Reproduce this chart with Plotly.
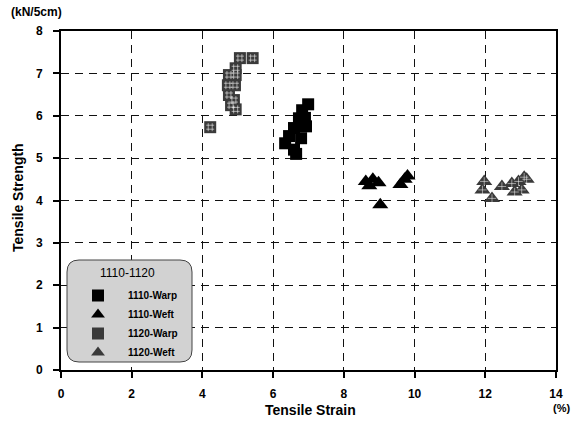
import plotly.graph_objects as go

# ---- data ----
warp1110_x = [6.99, 6.82, 6.73, 6.59, 6.93, 6.45, 6.79, 6.34, 6.59, 6.65, 6.9]
warp1110_y = [6.27, 6.13, 5.94, 5.71, 5.75, 5.52, 5.47, 5.35, 5.2, 5.1, 5.95]
weft1110_x = [8.62, 8.72, 8.82, 8.98, 9.03, 9.6, 9.72, 9.8]
weft1110_y = [4.45, 4.35, 4.5, 4.42, 3.9, 4.38, 4.5, 4.58]
warp1120_x = [5.06, 5.42, 4.94, 4.75, 4.94, 4.72, 4.92, 4.75, 4.89, 4.81, 4.94, 4.22]
warp1120_y = [7.36, 7.36, 7.12, 6.96, 6.96, 6.72, 6.72, 6.49, 6.37, 6.25, 6.15, 5.73]
weft1120_x = [11.97, 11.92, 12.19, 12.47, 12.75, 12.94, 13.1, 12.83, 13.03, 13.17]
weft1120_y = [4.45, 4.25, 4.05, 4.33, 4.4, 4.45, 4.55, 4.2, 4.25, 4.5]

x_ticks = [0, 2, 4, 6, 8, 10, 12, 14]
y_ticks = [0, 1, 2, 3, 4, 5, 6, 7, 8]

W, H = 577, 428
L, R, T, B = 61, 21, 31, 58
pw, ph = W - L - R, H - T - B

def px(xp):
    return (xp - L) / pw

def py(yp):
    return (H - B - yp) / ph

fig = go.Figure()

mk_line = dict(width=0)
fig.add_trace(go.Scatter(x=warp1110_x, y=warp1110_y, mode="markers", name="1110-Warp",
                         marker=dict(symbol="square", size=12, color="#000000", line=mk_line)))
fig.add_trace(go.Scatter(x=weft1110_x, y=weft1110_y, mode="markers", name="1110-Weft",
                         marker=dict(symbol="triangle-up", size=14, color="#000000", line=mk_line)))
fig.add_trace(go.Scatter(x=warp1120_x, y=warp1120_y, mode="markers", name="1120-Warp",
                         marker=dict(symbol="square", size=12, color="#3a3a3a", line=mk_line)))
fig.add_trace(go.Scatter(x=weft1120_x, y=weft1120_y, mode="markers", name="1120-Weft",
                         marker=dict(symbol="triangle-up", size=14, color="#3a3a3a", line=mk_line)))
# texture overlays (not in legend)
fig.add_trace(go.Scatter(x=warp1120_x, y=warp1120_y, mode="markers", showlegend=False, hoverinfo="skip",
                         marker=dict(symbol="hash-open", size=8, color="rgba(255,255,255,0.55)",
                                     line=dict(width=1, color="rgba(255,255,255,0.55)"))))
fig.add_trace(go.Scatter(x=weft1120_x, y=weft1120_y, mode="markers", showlegend=False, hoverinfo="skip",
                         marker=dict(symbol="cross-thin-open", size=6, color="rgba(255,255,255,0.5)",
                                     line=dict(width=1, color="rgba(255,255,255,0.5)"))))

# rounded legend box
x0, x1 = px(67), px(192)
y0, y1 = py(362), py(260)
rx, ry = 12 / pw, 12 / ph
path = (f"M {x0+rx},{y0} L {x1-rx},{y0} Q {x1},{y0} {x1},{y0+ry} "
        f"L {x1},{y1-ry} Q {x1},{y1} {x1-rx},{y1} L {x0+rx},{y1} Q {x0},{y1} {x0},{y1-ry} "
        f"L {x0},{y0+ry} Q {x0},{y0} {x0+rx},{y0} Z")
fig.add_shape(type="path", path=path, xref="paper", yref="paper",
              fillcolor="#d2d2d2", line=dict(color="#444444", width=1), layer="above")

font_family = "Liberation Sans, Arial, sans-serif"
axis_common = dict(showline=True, linecolor="#000000", linewidth=2, mirror=True,
                   ticks="outside", ticklen=6, tickwidth=2, tickcolor="#000000",
                   showgrid=True, gridcolor="#111111", gridwidth=1, griddash="8px,6px",
                   zeroline=False,
                   tickfont=dict(family=font_family, size=12, color="#000000", weight="bold"))

fig.update_xaxes(range=[0, 14], tickvals=x_ticks, ticklabelstandoff=6, **axis_common)
fig.update_yaxes(range=[0, 8], tickvals=y_ticks, ticklabelstandoff=8, **axis_common)

ann = dict(xref="paper", yref="paper", showarrow=False, xanchor="center", yanchor="middle")
fig.update_layout(
    width=W, height=H,
    margin=dict(l=L, r=R, t=T, b=B),
    paper_bgcolor="white", plot_bgcolor="white",
    font=dict(family=font_family, color="#000000"),
    legend=dict(x=px(68), y=py(281), xanchor="left", yanchor="top",
                bgcolor="rgba(0,0,0,0)", borderwidth=0,
                font=dict(size=10, family=font_family, weight="bold"),
                itemsizing="constant", itemwidth=50, tracegroupgap=0),
    annotations=[
        dict(text="1110-1120", x=px(127), y=py(273),
             font=dict(size=12, family=font_family), **ann),
        dict(text="Tensile Strain", x=px(310), y=py(410),
             font=dict(size=14, weight="bold", family=font_family), **ann),
        dict(text="Tensile Strength", x=px(18), y=py(198), textangle=-90,
             font=dict(size=14, weight="bold", family=font_family), **ann),
        dict(text="(kN/5cm)", x=px(36), y=py(12),
             font=dict(size=12, weight="bold", family=font_family), **ann),
        dict(text="(%)", x=px(561), y=py(408),
             font=dict(size=11, weight="bold", family=font_family), **ann),
    ],
)

fig.write_html("out.html")
